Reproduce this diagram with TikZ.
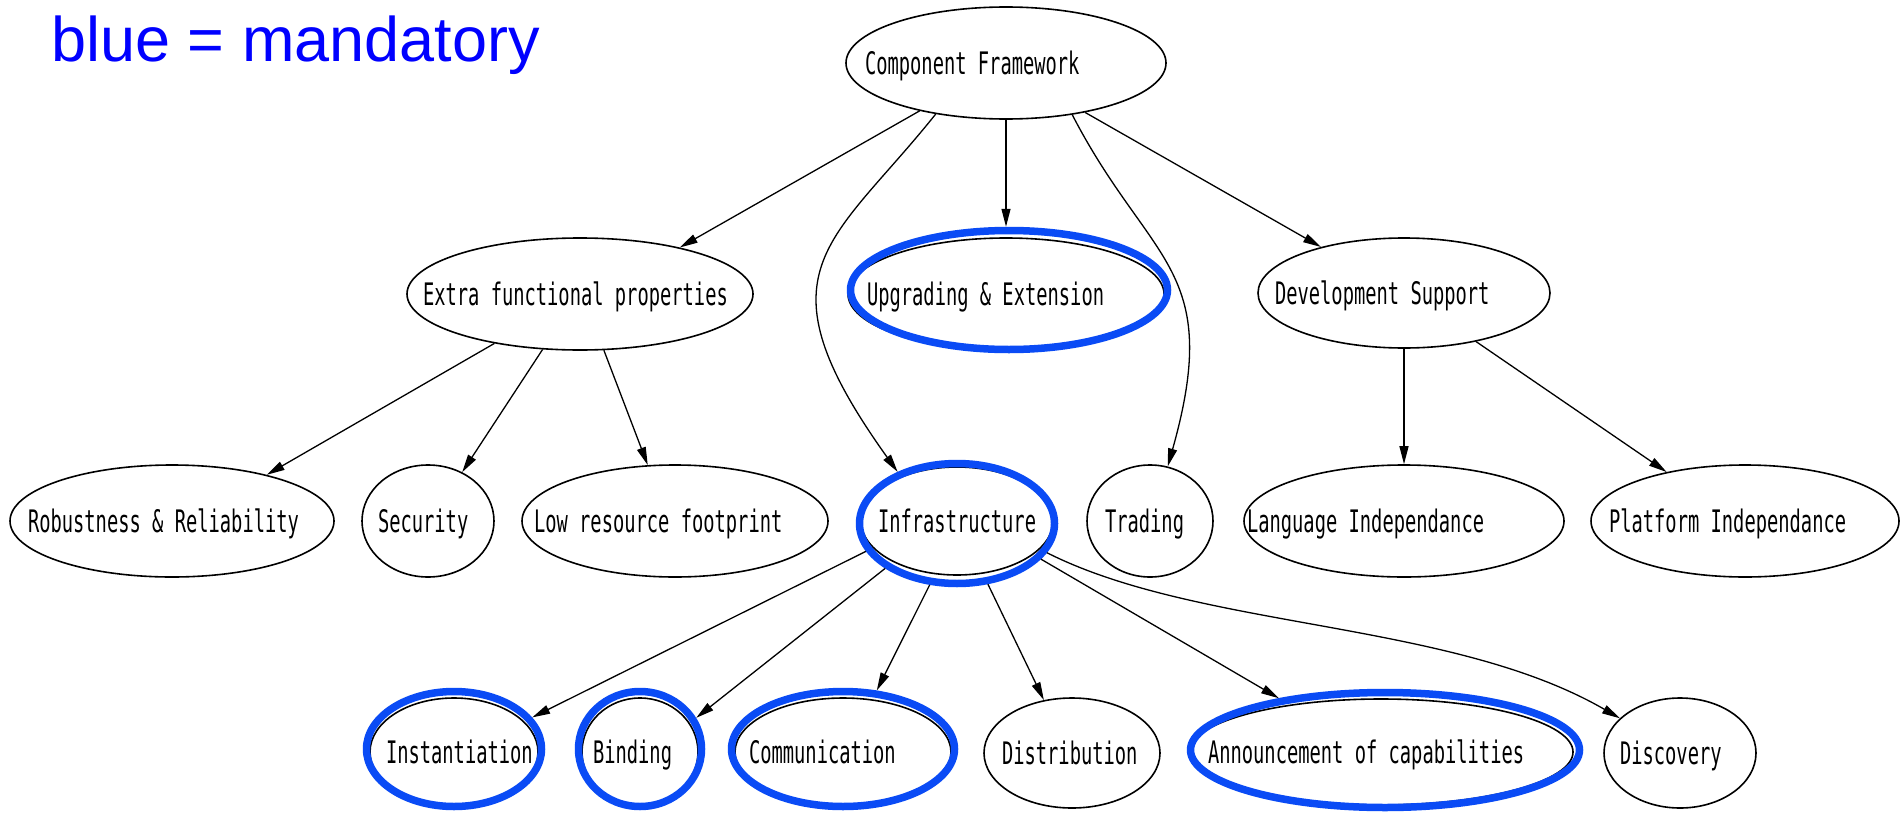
\documentclass[tikz,border=0pt]{standalone}
\usepackage{fontspec}
\usetikzlibrary{arrows.meta,shapes.geometric}
\newfontfamily\lblfont{DejaVu Sans Mono}[FakeStretch=0.605]
\newfontfamily\titlefont{Liberation Sans}
\definecolor{mandblue}{RGB}{10,75,245}
\definecolor{titleblue}{RGB}{0,0,255}
% label text that starts #1pt left of the node centre
\newcommand\ovaltext[2]{\makebox[0pt][l]{\hspace*{-#1pt}#2}}

\begin{document}
\begin{tikzpicture}[x=1pt,y=-1pt,
  oval/.style={draw, ellipse, line width=1.6pt, inner sep=0pt,
    text height=22.6pt, text depth=0pt,
    font=\lblfont\fontsize{31}{31}\selectfont},
  rad/.style 2 args={minimum width={2*#1pt}, minimum height={2*#2pt}},
  ring/.style={draw=mandblue, ellipse, line width=7.5pt, inner sep=0pt},
  link/.style={line width=1.3pt, -{Triangle[length=18pt,width=9pt]}},
]
\fill[white] (0,0) rectangle (1903,816);
\useasboundingbox (0,0) rectangle (1903,816);

\node[anchor=base west, inner sep=0pt, text=titleblue,
  font=\titlefont\fontsize{63}{63}\selectfont] (legend) at (51,62) {blue = mandatory};

% top level
\node[oval, rad={160}{56}] (cf) at (1006,63) {\ovaltext{141}{Component Framework}};

% second level
\node[oval, rad={173}{56}] (efp) at (580,294) {\ovaltext{157}{Extra functional properties}};
\node[oval, rad={158}{56}] (upg) at (1006,294) {\ovaltext{139}{Upgrading \& Extension}};
\node[oval, rad={146}{55}] (dev) at (1404,293) {\ovaltext{129}{Development Support}};

% third level
\node[oval, rad={162}{56}] (rob) at (172,521) {\ovaltext{144}{Robustness \& Reliability}};
\node[oval, rad={66}{56}] (sec) at (428,521) {\ovaltext{50}{Security}};
\node[oval, rad={153}{56}] (low) at (675,521) {\ovaltext{141}{Low resource footprint}};
\node[oval, rad={96}{54}] (inf) at (957,521) {\ovaltext{79}{Infrastructure}};
\node[oval, rad={63}{56}] (tra) at (1150,521) {\ovaltext{45}{Trading}};
\node[oval, rad={160}{56}] (lan) at (1404,521) {\ovaltext{157}{Language Independance}};
\node[oval, rad={154}{56}] (pla) at (1745,521) {\ovaltext{136}{Platform Independance}};

% fourth level
\node[oval, rad={84}{54}] (ins) at (454,752) {\ovaltext{68}{Instantiation}};
\node[oval, rad={58}{54}] (bin) at (640,752) {\ovaltext{47}{Binding}};
\node[oval, rad={108}{54}] (com) at (843,752) {\ovaltext{94}{Communication}};
\node[oval, rad={88}{55}] (dis) at (1072,753) {\ovaltext{70}{Distribution}};
\node[oval, rad={192}{53}] (ann) at (1381,752) {\ovaltext{173}{Announcement of capabilities}};
\node[oval, rad={76}{55}] (dsc) at (1680,753) {\ovaltext{60}{Discovery}};

% mandatory features
\node[ring, rad={158.5}{59.5}] (upg-ring) at (1009,290) {};
\node[ring, rad={97.5}{60}] (inf-ring) at (957,523.5) {};
\node[ring, rad={87.5}{57.5}] (ins-ring) at (454,749) {};
\node[ring, rad={61.5}{57.5}] (bin-ring) at (640,749) {};
\node[ring, rad={111.5}{57.5}] (com-ring) at (843,749) {};
\node[ring, rad={194.5}{57.5}] (ann-ring) at (1385,750) {};

% connectors
\draw[link] (cf.209) -- (efp.25);
\draw[link] (cf.south) -- (cf.south |- upg-ring.north);
\draw[link] (cf.216) .. controls (831,245) and (753,270) .. (inf-ring.139);
\draw[link] (cf.322) .. controls (1150,265) and (1224,267) .. (tra.72);
\draw[link] (cf.328) -- (dev.151);

\draw[link] (efp.210) -- (rob.26);
\draw[link] (efp.236) -- (sec.55);
\draw[link] (efp.293) -- (low.116);

\draw[link] (dev.south) -- (lan.north);
\draw[link] (dev.326) -- (pla.148);

\draw[link] (inf-ring.197) -- (ins-ring.22);
\draw[link] (inf-ring.212) -- (bin-ring.29);
\draw[link] (inf-ring.246) -- (com-ring.60);
\draw[link] (inf-ring.297) -- (dis.118);
\draw[link] (inf-ring.337) -- (ann-ring.154);
\draw[link] (inf-ring.342) .. controls (1200,630) and (1450,620) .. (dsc.150);
\end{tikzpicture}
\end{document}
